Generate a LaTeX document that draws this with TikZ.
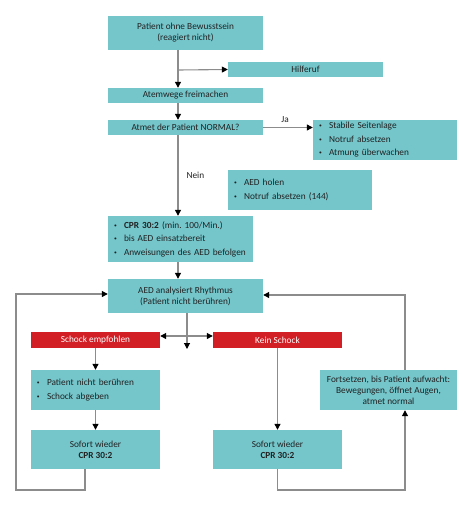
\documentclass[tikz,border=0pt]{standalone}
\usepackage{fontspec}
\setmainfont{Carlito}
\usepackage{tikz}
\usetikzlibrary{arrows.meta}
\definecolor{aedteal}{HTML}{74C6CB}
\definecolor{aedred}{HTML}{D21F25}
\definecolor{aedtext}{HTML}{222222}
\definecolor{aedline}{HTML}{8C8C8C}
\frenchspacing
\newcommand{\blt}{\makebox[10pt][l]{\raisebox{1pt}{\scalebox{0.6}{\textbullet}}}}
\newcommand{\boxfont}{\fontsize{9.3}{11}\selectfont\hyphenpenalty=10000}
\newcommand{\listfont}{\fontsize{9.3}{13.5}\selectfont\hyphenpenalty=10000}

\begin{document}
\begin{tikzpicture}[x=1pt, y=-1pt, >={Triangle[color=black, width=6pt, length=6pt]},
    box/.style={fill=aedteal, text=aedtext, font=\boxfont,
      inner sep=0pt, align=center},
    listbox/.style={box, font=\listfont, align=left, inner xsep=6pt},
    alarm/.style={fill=aedred, text=white, font=\boxfont,
      inner sep=0pt, minimum width=129pt, minimum height=16pt},
    conn/.style={draw=aedline, line width=1.1pt},
    lbl/.style={font=\boxfont, text=aedtext}]
  \useasboundingbox (0,0) rectangle (474,507);
  %--- Upper part
  \node[box, minimum width=155pt, minimum height=34pt] (start) at (185.5,33)
    {Patient ohne Bewusstsein\\(reagiert nicht)};
  \node[box, minimum width=155pt, minimum height=15pt] (hilfe) at (305.5,69.5) {Hilferuf};
  \node[box, minimum width=155pt, minimum height=15pt] (atem) at (185.5,95.5) {Atemwege freimachen};
  \node[box, minimum width=155pt, minimum height=15pt] (normal) at (185.5,127.5) {Atmet der Patient NORMAL?};
  \node[listbox, text width=132pt, minimum height=40pt] (seite) at (385,140)
    {\blt Stabile Seitenlage\\ \blt Notruf absetzen\\ \blt Atmung überwachen};
  \node[listbox, text width=132pt, minimum height=40pt] (holen) at (300,190)
    {\blt AED holen\\ \blt Notruf absetzen (144)};
  \node[listbox, text width=133pt, minimum height=46pt] (cpr) at (180.5,239)
    {\blt \textbf{CPR 30:2} (min. 100/Min.)\\ \blt bis AED einsatzbereit\\ \blt Anweisungen des AED befolgen};
  \node[box, minimum width=155pt, minimum height=34pt] (analyse) at (185.5,296)
    {AED analysiert Rhythmus\\(Patient nicht berühren)};
  %--- Lower part
  \node[alarm] (schock) at (95.5,340) {Schock empfohlen};
  \node[alarm] (kein) at (277.5,340) {Kein Schock};
  \node[listbox, text width=117pt, minimum height=40pt] (beruehr) at (95.5,390)
    {\blt Patient nicht berühren\\ \blt Schock abgeben};
  \node[box, minimum width=129pt, minimum height=39pt] (sofortL) at (95.5,449.5)
    {Sofort wieder\\\textbf{CPR 30:2}};
  \node[box, minimum width=129pt, minimum height=39pt] (sofortR) at (277.5,449.5)
    {Sofort wieder\\\textbf{CPR 30:2}};
  \node[box, minimum width=137pt, minimum height=40pt] (fort) at (388.5,390)
    {Fortsetzen, bis Patient aufwacht:\\Bewegungen, öffnet Augen,\\atmet normal};
  %--- Labels
  \node[lbl] (ja) at (285,120) {Ja};
  \node[lbl, anchor=west] (nein) at (183,175) {Nein};
  %--- Coordinates
  \coordinate (split) at (187,349);
  \coordinate (lbot) at (16,490);
  \coordinate (rbot) at (405,490);
  \coordinate (hbr) at (178,70);
  %--- Connectors
  \draw[conn, ->] ([xshift=-7.5pt]start.south) -- ([xshift=-7.5pt]atem.north);
  \draw[conn, ->] (hbr) -- (hilfe.west);
  \draw[conn, ->] ([xshift=-7.5pt]atem.south) -- ([xshift=-7.5pt]normal.north);
  \draw[conn, ->] (normal.east) -- (normal.east -| seite.west);
  \draw[conn, ->] ([xshift=-7.5pt]normal.south) -- ([xshift=-2.5pt]cpr.north);
  \draw[conn, ->] ([xshift=-2.5pt]cpr.south) -- ([xshift=-7.5pt]analyse.north);
  \draw[conn, ->] ([xshift=1.5pt]analyse.south) -- (split);
  \draw[conn, <->] ([yshift=4pt]schock.east) -- ([yshift=4pt]kein.west);
  \draw[conn, ->] (schock.south) -- (beruehr.north);
  \draw[conn, ->] (beruehr.south) -- (sofortL.north);
  \draw[conn, ->] ([xshift=-10.5pt]sofortL.south) |- (lbot) |- ([yshift=2pt]analyse.west);
  \draw[conn, ->] (kein.south) -- (sofortR.north);
  \draw[conn, ->] (sofortR.south) |- (rbot) -- (rbot |- fort.south);
  \draw[conn, ->] ([xshift=16.5pt]fort.north) |- ([yshift=1pt]analyse.east);
\end{tikzpicture}
\end{document}
